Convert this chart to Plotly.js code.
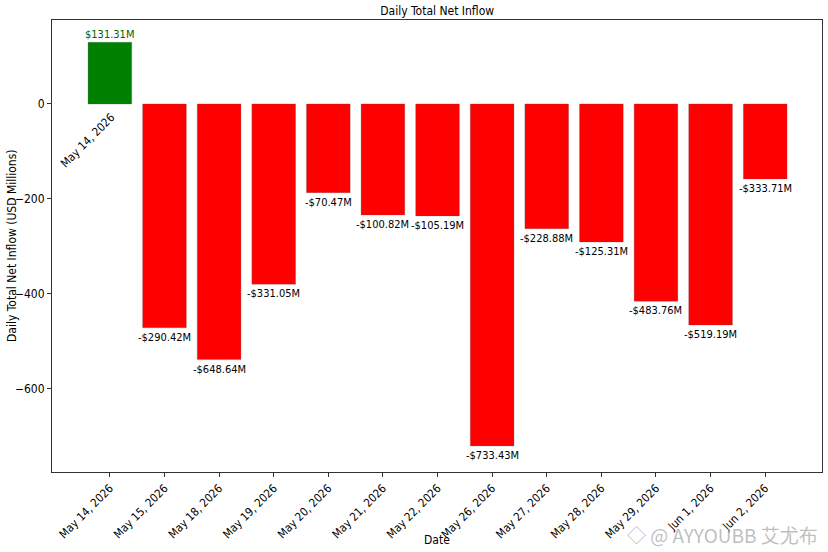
<!DOCTYPE html>
<html>
<head>
<meta charset="utf-8">
<script src="https://cdn.plot.ly/plotly-3.0.1.min.js"></script>
<style>html,body{margin:0;padding:0;background:#fff;}#chart{width:828px;height:552px;}</style>
</head>
<body>
<div id="chart"></div>
<script>
const dates = ["May 14, 2026","May 15, 2026","May 18, 2026","May 19, 2026","May 20, 2026","May 21, 2026","May 22, 2026","May 26, 2026","May 27, 2026","May 28, 2026","May 29, 2026","Jun 1, 2026","Jun 2, 2026"];
const barValues = [130, -472, -539, -380, -187, -234, -236, -721, -263, -291, -416, -466, -158];
const valueLabels = ["$131.31M","-$290.42M","-$648.64M","-$331.05M","-$70.47M","-$100.82M","-$105.19M","-$733.43M","-$228.88M","-$125.31M","-$483.76M","-$519.19M","-$333.71M"];
const yTicks = [0, -200, -400, -600];

const FONT = "DejaVu Sans Condensed, DejaVu Sans, sans-serif";
const colors = barValues.map(v => v >= 0 ? "#008000" : "#ff0000");

const trace = {
  type: "bar",
  x: dates.map((d, i) => i),
  y: barValues,
  width: 0.8,
  marker: {color: colors, line: {color: "rgba(90,90,90,0.5)", width: 0.6}},
  hoverinfo: "skip"
};

const annotations = valueLabels.map((t, i) => ({
  x: i, y: barValues[i], xref: "x", yref: "y",
  text: t, showarrow: false,
  yanchor: barValues[i] >= 0 ? "bottom" : "top",
  yshift: barValues[i] >= 0 ? -1 : -1,
  font: {family: FONT, size: 11, color: barValues[i] >= 0 ? "#006400" : "#000"}
}));
annotations.push({
  x: 0, y: 0, xref: "x", yref: "y", text: dates[0], showarrow: false,
  textangle: -45, xanchor: "center", yanchor: "middle", xshift: -22, yshift: -36,
  font: {family: FONT, size: 11.5, color: "#000"}
});
annotations.push({
  x: 1, y: 0, xref: "paper", yref: "paper", xanchor: "right", yanchor: "bottom",
  xshift: -2, yshift: -78, text: "◇ @ AYYOUBB 艾尤布", showarrow: false,
  font: {family: "Noto Sans CJK SC, DejaVu Sans, sans-serif", size: 19, color: "rgba(170,170,170,0.75)"}
});
annotations.push({
  x: 0.5, y: 0, xref: "paper", yref: "paper", xanchor: "center", yanchor: "middle",
  yshift: -68, text: "Date", showarrow: false,
  font: {family: FONT, size: 12, color: "#000"}
});
annotations.push({
  x: 0, y: 0.5, xref: "paper", yref: "paper", xanchor: "center", yanchor: "middle",
  xshift: -40, textangle: -90, text: "Daily Total Net Inflow (USD Millions)", showarrow: false,
  font: {family: FONT, size: 12, color: "#000"}
});

const layout = {
  width: 828, height: 552,
  margin: {l: 52, r: 6, t: 20, b: 80},
  paper_bgcolor: "#fff", plot_bgcolor: "#fff",
  showlegend: false,
  title: {text: "Daily Total Net Inflow", x: 0.528, xanchor: "center", y: 0.981, yanchor: "middle",
          font: {family: FONT, size: 12, color: "#000"}},
  xaxis: {
    tickmode: "array", tickvals: dates.map((d, i) => i), ticktext: dates,
    range: [-1.06, 13.04], tickangle: -45,
    ticks: "outside", ticklen: 4, tickcolor: "#333",
    showline: true, linecolor: "#333", linewidth: 1, mirror: true,
    showgrid: false, zeroline: false,
    tickfont: {family: FONT, size: 11.5, color: "#000"}
  },
  yaxis: {
    range: [-776, 177], tickmode: "array", tickvals: yTicks,
    ticktext: yTicks.map(v => v < 0 ? "\u2212" + Math.abs(v) : String(v)),
    ticks: "outside", ticklen: 4, tickcolor: "#333",
    showline: true, linecolor: "#333", linewidth: 1, mirror: true,
    showgrid: false, zeroline: false,
    tickfont: {family: FONT, size: 12, color: "#000"}
  },
  annotations: annotations,
  bargap: 0.2
};

Plotly.newPlot("chart", [trace], layout, {displayModeBar: false, staticPlot: true});
</script>
</body>
</html>
